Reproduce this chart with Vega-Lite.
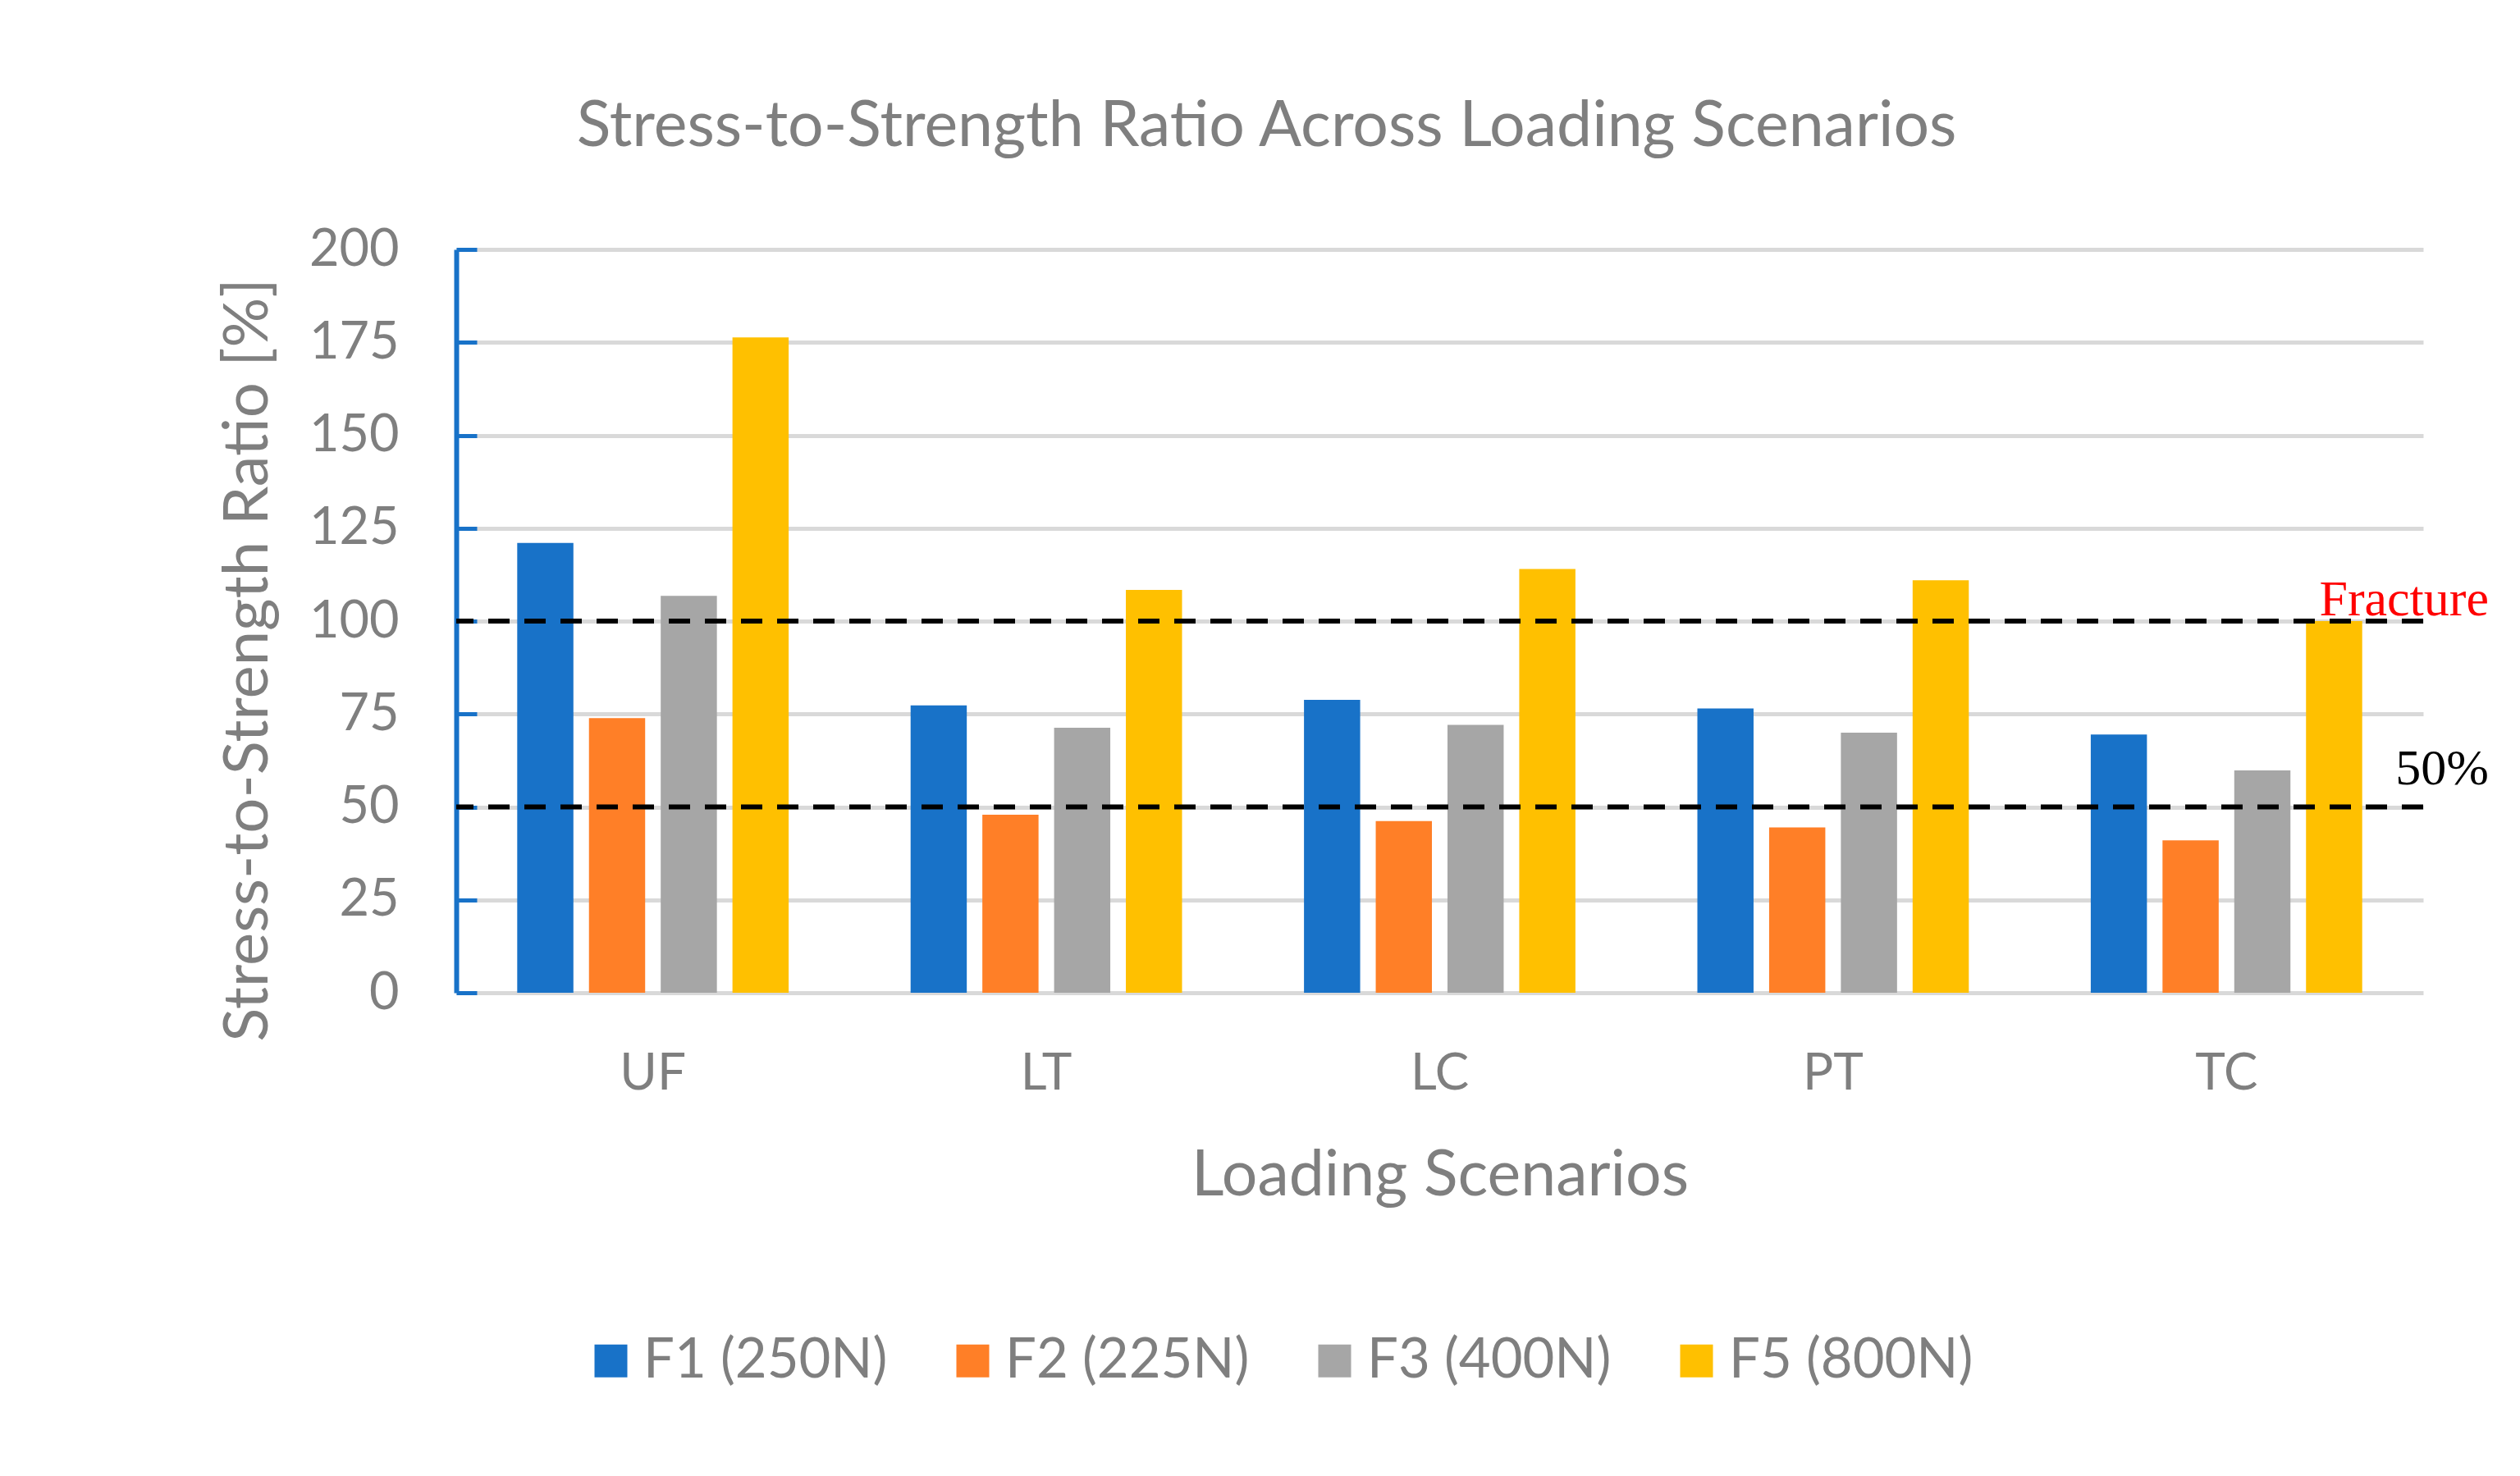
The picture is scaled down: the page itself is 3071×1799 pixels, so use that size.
{
  "$schema": "https://vega.github.io/schema/vega-lite/v6.json",
  "width": 2397,
  "height": 906,
  "autosize": {"type": "none"},
  "padding": {"left": 556, "top": 304, "right": 118, "bottom": 589},
  "background": "white",
  "config": {"view": {"stroke": null}, "font": "Lato"},
  "title": {
    "text": "Stress-to-Strength Ratio Across Loading Scenarios",
    "fontSize": 77,
    "font": "Lato",
    "fontWeight": "normal",
    "color": "#7f7f7f",
    "anchor": "middle",
    "frame": "group",
    "baseline": "alphabetic",
    "dx": -211,
    "offset": 18
  },
  "layer": [
    {
      "data": {
        "values": [
          {"scenario": "UF", "force": "F1 (250N)", "value": 121.0},
          {"scenario": "UF", "force": "F2 (225N)", "value": 73.9},
          {"scenario": "UF", "force": "F3 (400N)", "value": 106.8},
          {"scenario": "UF", "force": "F5 (800N)", "value": 176.3},
          {"scenario": "LT", "force": "F1 (250N)", "value": 77.3},
          {"scenario": "LT", "force": "F2 (225N)", "value": 47.9},
          {"scenario": "LT", "force": "F3 (400N)", "value": 71.3},
          {"scenario": "LT", "force": "F5 (800N)", "value": 108.4},
          {"scenario": "LC", "force": "F1 (250N)", "value": 78.8},
          {"scenario": "LC", "force": "F2 (225N)", "value": 46.2},
          {"scenario": "LC", "force": "F3 (400N)", "value": 72.1},
          {"scenario": "LC", "force": "F5 (800N)", "value": 114.0},
          {"scenario": "PT", "force": "F1 (250N)", "value": 76.5},
          {"scenario": "PT", "force": "F2 (225N)", "value": 44.5},
          {"scenario": "PT", "force": "F3 (400N)", "value": 70.0},
          {"scenario": "PT", "force": "F5 (800N)", "value": 111.0},
          {"scenario": "TC", "force": "F1 (250N)", "value": 69.5},
          {"scenario": "TC", "force": "F2 (225N)", "value": 41.0},
          {"scenario": "TC", "force": "F3 (400N)", "value": 59.8},
          {"scenario": "TC", "force": "F5 (800N)", "value": 100.0}
        ]
      },
      "mark": {"type": "bar"},
      "encoding": {
        "x": {
          "field": "scenario",
          "type": "nominal",
          "sort": ["UF", "LT", "LC", "PT", "TC"],
          "scale": {"paddingInner": 0.31, "paddingOuter": 0.155},
          "axis": {
            "title": "Loading Scenarios",
            "domain": false,
            "ticks": false,
            "labelAngle": 0,
            "labelFontSize": 62,
            "labelColor": "#7f7f7f",
            "labelPadding": 68,
            "titleFontSize": 77,
            "titleColor": "#7f7f7f",
            "titleFontWeight": "normal",
            "titleBaseline": "alphabetic",
            "titleY": 246
          }
        },
        "xOffset": {
          "field": "force",
          "type": "nominal",
          "sort": ["F1 (250N)", "F2 (225N)", "F3 (400N)", "F5 (800N)"],
          "scale": {"paddingInner": 0.217, "paddingOuter": 0}
        },
        "y": {
          "field": "value",
          "type": "quantitative",
          "scale": {"domain": [0, 200], "nice": false},
          "axis": {
            "title": "Stress-to-Strength Ratio [%]",
            "values": [0, 25, 50, 75, 100, 125, 150, 175, 200],
            "grid": true,
            "gridColor": "#d9d9d9",
            "gridWidth": 5,
            "domainColor": "#1872C8",
            "domainWidth": 6,
            "tickColor": "#1872C8",
            "tickWidth": 5,
            "tickSize": -25,
            "labelFontSize": 63,
            "labelColor": "#7f7f7f",
            "labelPadding": 95,
            "titleFontSize": 76,
            "titleColor": "#7f7f7f",
            "titleFontWeight": "normal",
            "titleAngle": -90,
            "titleX": -231,
            "titleY": 500,
            "titleAlign": "center",
            "titleBaseline": "alphabetic"
          }
        },
        "color": {
          "field": "force",
          "type": "nominal",
          "scale": {
            "domain": ["F1 (250N)", "F2 (225N)", "F3 (400N)", "F5 (800N)"],
            "range": ["#1872C8", "#FF7F27", "#A6A6A6", "#FFC000"]
          },
          "legend": {
            "orient": "none",
            "legendX": 155,
            "legendY": 1321,
            "direction": "horizontal",
            "columns": 4,
            "title": null,
            "symbolType": "square",
            "symbolSize": 1600,
            "symbolStrokeWidth": 0,
            "labelFontSize": 67,
            "labelLimit": 600,
            "labelColor": "#7f7f7f",
            "labelOffset": 6,
            "columnPadding": 70,
            "padding": 0
          }
        }
      }
    },
    {
      "data": {
        "values": [
          {"level": 100, "label": "Fracture"},
          {"level": 50, "label": "50%"}
        ]
      },
      "layer": [
        {
          "mark": {"type": "rule", "color": "black", "strokeWidth": 6, "strokeDash": [26, 18]},
          "encoding": {"y": {"field": "level", "type": "quantitative"}}
        },
        {
          "transform": [{"filter": "datum.label === 'Fracture'"}],
          "mark": {"type": "text", "font": "Liberation Serif", "fontSize": 62, "color": "#ff0000", "align": "right", "baseline": "alphabetic", "x": {"expr": "width"}, "dx": 80, "dy": -7},
          "encoding": {"y": {"field": "level", "type": "quantitative"}, "text": {"field": "label"}}
        },
        {
          "transform": [{"filter": "datum.label === '50%'"}],
          "mark": {"type": "text", "font": "Liberation Serif", "fontSize": 62, "color": "black", "align": "right", "baseline": "alphabetic", "x": {"expr": "width"}, "dx": 80, "dy": -28},
          "encoding": {"y": {"field": "level", "type": "quantitative"}, "text": {"field": "label"}}
        }
      ]
    }
  ]
}
